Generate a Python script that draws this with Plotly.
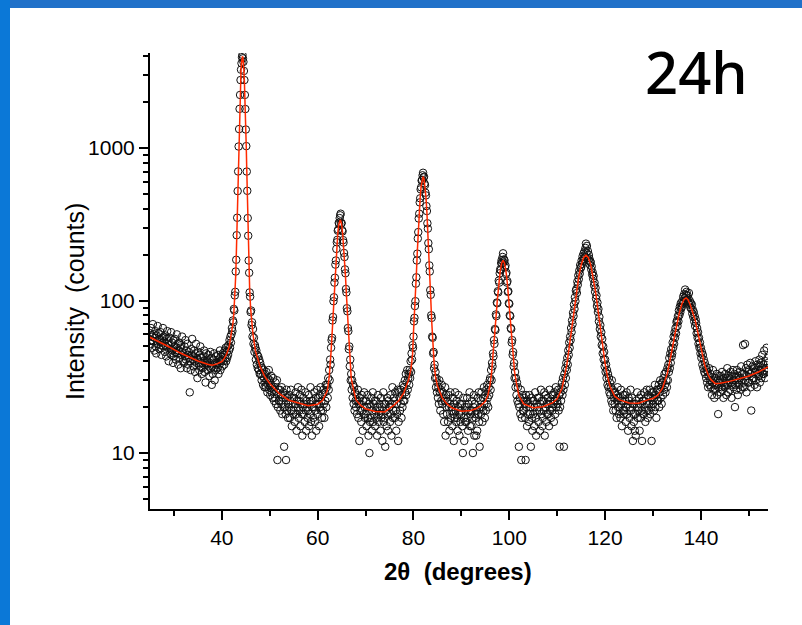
import numpy as np
import plotly.graph_objects as go

# ---------------- data ----------------
SCAN_START = 25.0   # first 2-theta of the scan (degrees)
SCAN_STEP = 0.1     # scan step (degrees)

# measured counts, one line per degree (x.0 ... x.9)
counts = [
    61, 52, 66, 55, 49, 58, 70, 54, 60, 47,            # 25
    57, 63, 50, 45, 59, 54, 68, 52, 61, 56,            # 26
    48, 55, 62, 51, 44, 57, 53, 66, 50, 58,            # 27
    54, 46, 59, 50, 43, 56, 63, 49, 52, 40,            # 28
    51, 57, 45, 48, 62, 44, 53, 47, 39, 55,            # 29
    43, 50, 56, 46, 41, 49, 60, 45, 52, 38,            # 30
    47, 53, 42, 49, 36, 51, 44, 58, 46, 40,            # 31
    45, 39, 50, 43, 55, 41, 47, 36, 52, 44,            # 32
    38, 46, 42, 25, 40, 35, 48, 44, 56, 41,            # 33
    43, 37, 47, 40, 34, 45, 52, 39, 42, 31,            # 34
    41, 46, 38, 35, 44, 50, 37, 42, 33, 39,            # 35
    36, 43, 40, 47, 34, 39, 29, 45, 38, 41,            # 36
    40, 35, 44, 37, 32, 39, 46, 36, 42, 28,            # 37
    37, 33, 41, 36, 45, 30, 39, 35, 43, 38,            # 38
    39, 36, 44, 33, 41, 38, 47, 35, 40, 43,            # 39
    41, 37, 45, 40, 44, 38, 47, 42, 49, 40,            # 40
    46, 42, 50, 44, 51, 47, 55, 49, 58, 53,            # 41
    60, 66, 63, 74, 72, 88, 86, 108, 114, 155,         # 42
    185, 268, 349, 522, 702, 1023, 1331, 1806, 2228, 2790,   # 43
    3262, 3597, 3941, 4085, 3873, 3671, 3201, 2790, 2229, 1801,  # 44
    1322, 1029, 701, 524, 347, 266, 183, 152, 113, 106,  # 45
    84, 86, 69, 72, 58, 65, 52, 57, 46, 51,            # 46
    49, 41, 47, 38, 44, 36, 43, 35, 41, 33,            # 47
    39, 33, 37, 30, 36, 32, 28, 35, 31, 27,            # 48
    33, 29, 27, 34, 30, 25, 31, 28, 35, 26,            # 49
    30, 24, 28, 32, 25, 27, 23, 31, 26, 22,            # 50
    27, 23, 29, 21, 25, 30, 9, 20, 26, 22,             # 51
    22, 26, 19, 24, 21, 27, 18, 23, 25, 20,            # 52
    11, 24, 20, 18, 9, 26, 19, 23, 17, 21,             # 53
    20, 24, 17, 22, 26, 19, 15, 23, 21, 18,            # 54
    19, 23, 16, 21, 25, 18, 14, 22, 20, 27,            # 55
    17, 22, 19, 24, 15, 21, 26, 18, 13, 20,            # 56
    23, 18, 21, 16, 25, 19, 14, 22, 20, 17,            # 57
    19, 24, 15, 21, 18, 27, 16, 22, 13, 20,            # 58
    22, 17, 20, 25, 16, 19, 23, 14, 21, 26,            # 59
    18, 23, 21, 15, 24, 20, 27, 19, 22, 17,            # 60
    24, 19, 26, 21, 17, 25, 22, 28, 20, 27,            # 61
    28, 23, 31, 26, 35, 30, 41, 38, 49, 55,            # 62
    57, 74, 78, 99, 105, 131, 141, 172, 183, 218,      # 63
    241, 250, 287, 292, 323, 318, 347, 362, 371, 320,  # 64
    322, 289, 284, 249, 240, 205, 193, 160, 151, 119,  # 65
    113, 89, 85, 66, 63, 48, 50, 37, 41, 30,           # 66
    33, 26, 30, 23, 28, 21, 27, 19, 25, 22,            # 67
    20, 24, 18, 22, 26, 17, 21, 12, 23, 19,            # 68
    21, 16, 24, 19, 14, 22, 18, 25, 20, 17,            # 69
    18, 22, 15, 20, 24, 17, 13, 21, 10, 16,            # 70
    20, 17, 23, 14, 19, 25, 16, 21, 18, 22,            # 71
    15, 19, 22, 17, 13, 20, 24, 16, 18, 21,            # 72
    19, 14, 23, 17, 20, 12, 18, 25, 16, 21,            # 73
    17, 11, 21, 19, 15, 23, 18, 14, 22, 20,            # 74
    20, 16, 24, 18, 13, 21, 27, 17, 19, 23,            # 75
    22, 17, 25, 19, 14, 21, 18, 26, 12, 16,            # 76
    25, 23, 19, 26, 21, 17, 24, 20, 28, 22,            # 77
    27, 22, 30, 25, 33, 24, 29, 35, 26, 31,            # 78
    33, 28, 35, 31, 40, 34, 45, 41, 51, 49,            # 79
    58, 73, 77, 92, 99, 129, 142, 183, 203, 255,       # 80
    281, 345, 371, 440, 468, 536, 552, 611, 617, 662,  # 81
    688, 641, 648, 585, 571, 509, 489, 416, 386, 321,  # 82
    296, 238, 217, 170, 155, 117, 109, 80, 77, 58,     # 83
    57, 45, 46, 36, 38, 31, 34, 27, 31, 25,            # 84
    29, 23, 27, 21, 30, 25, 19, 26, 22, 28,            # 85
    21, 25, 18, 23, 16, 22, 27, 13, 24, 20,            # 86
    18, 22, 16, 24, 20, 14, 21, 25, 17, 19,            # 87
    20, 15, 23, 18, 12, 21, 17, 25, 19, 16,            # 88
    22, 17, 14, 20, 24, 18, 13, 21, 16, 19,            # 89
    18, 21, 15, 10, 23, 17, 12, 20, 16, 19,            # 90
    16, 20, 23, 17, 14, 21, 19, 25, 15, 18,            # 91
    19, 15, 22, 17, 10, 20, 24, 13, 21, 18,            # 92
    17, 13, 19, 14, 23, 18, 25, 16, 11, 20,            # 93
    22, 18, 25, 20, 16, 23, 19, 27, 21, 17,            # 94
    24, 19, 26, 21, 28, 23, 20, 27, 24, 30,            # 95
    31, 26, 35, 30, 39, 37, 45, 43, 55, 52,            # 96
    65, 64, 81, 79, 97, 96, 115, 113, 135, 131,        # 97
    151, 160, 158, 176, 184, 175, 193, 204, 178, 186,  # 98
    183, 165, 170, 149, 152, 131, 134, 114, 115, 96,   # 99
    95, 80, 79, 66, 65, 53, 55, 44, 46, 37,            # 100
    39, 31, 34, 27, 31, 24, 29, 22, 27, 21,            # 101
    11, 20, 23, 18, 26, 9, 17, 24, 19, 22,             # 102
    19, 23, 21, 17, 9, 24, 20, 15, 22, 18,             # 103
    21, 16, 24, 18, 20, 11, 23, 17, 14, 22,            # 104
    18, 22, 15, 20, 25, 17, 13, 21, 19, 23,            # 105
    20, 16, 23, 19, 14, 21, 26, 18, 22, 15,            # 106
    17, 22, 19, 25, 13, 20, 24, 16, 21, 18,            # 107
    23, 18, 21, 15, 26, 19, 22, 17, 24, 20,            # 108
    19, 24, 21, 16, 25, 22, 18, 27, 20, 23,            # 109
    22, 21, 26, 19, 24, 11, 20, 25, 22, 27,            # 110
    29, 24, 31, 26, 11, 33, 28, 36, 31, 39,            # 111
    35, 42, 38, 47, 44, 53, 49, 58, 55, 66,            # 112
    62, 74, 70, 83, 79, 94, 88, 105, 99, 116,          # 113
    119, 112, 133, 127, 146, 138, 157, 150, 171, 163,  # 114
    166, 183, 174, 195, 182, 203, 188, 210, 194, 221,  # 115
    236, 207, 228, 190, 211, 184, 199, 189, 172, 181,  # 116
    178, 160, 167, 148, 153, 139, 145, 126, 131, 114,  # 117
    121, 103, 108, 92, 97, 84, 88, 73, 78, 65,         # 118
    69, 58, 62, 51, 56, 45, 50, 41, 46, 37,            # 119
    41, 34, 38, 31, 35, 28, 33, 27, 31, 25,            # 120
    29, 24, 27, 22, 30, 21, 26, 19, 25, 23,            # 121
    21, 25, 19, 24, 17, 22, 27, 20, 23, 18,            # 122
    20, 23, 17, 26, 21, 15, 22, 19, 24, 18,            # 123
    19, 24, 22, 16, 20, 25, 18, 21, 14, 23,            # 124
    22, 17, 20, 26, 19, 15, 23, 21, 12, 18,            # 125
    16, 21, 14, 18, 13, 22, 20, 25, 17, 19,            # 126
    20, 23, 14, 21, 17, 24, 19, 12, 22, 18,            # 127
    22, 18, 25, 20, 16, 23, 19, 26, 21, 17,            # 128
    24, 19, 21, 26, 18, 23, 20, 12, 25, 22,            # 129
    21, 25, 19, 23, 28, 20, 24, 17, 26, 22,            # 130
    26, 22, 28, 20, 25, 30, 23, 27, 21, 29,            # 131
    29, 24, 31, 26, 33, 28, 25, 34, 30, 27,            # 132
    36, 30, 38, 34, 42, 36, 45, 39, 48, 43,            # 133
    45, 53, 49, 58, 52, 62, 57, 66, 61, 72,            # 134
    74, 68, 79, 73, 86, 80, 91, 84, 96, 89,            # 135
    91, 99, 95, 106, 98, 110, 104, 118, 100, 109,      # 136
    114, 101, 108, 97, 103, 112, 94, 99, 90, 96,       # 137
    88, 94, 82, 87, 78, 84, 73, 79, 68, 75,            # 138
    71, 61, 66, 57, 62, 52, 57, 49, 53, 45,            # 139
    49, 42, 46, 38, 44, 36, 41, 34, 39, 33,            # 140
    37, 31, 35, 29, 34, 27, 32, 36, 28, 30,            # 141
    33, 27, 30, 24, 29, 35, 26, 31, 23, 28,            # 142
    26, 31, 28, 33, 24, 30, 18, 27, 32, 29,            # 143
    30, 25, 32, 27, 34, 26, 29, 23, 31, 28,            # 144
    27, 33, 29, 24, 31, 36, 28, 25, 32, 30,            # 145
    31, 26, 34, 29, 23, 32, 28, 35, 27, 30,            # 146
    33, 20, 28, 31, 26, 35, 29, 24, 32, 30,            # 147
    28, 34, 31, 26, 37, 30, 33, 27, 51, 29,            # 148
    33, 27, 52, 30, 36, 25, 32, 38, 29, 34,            # 149
    35, 29, 33, 39, 27, 19, 34, 30, 37, 31,            # 150
    31, 36, 28, 34, 40, 30, 35, 27, 38, 33,            # 151
    37, 32, 41, 29, 35, 39, 31, 36, 44, 33,            # 152
    38, 33, 47, 35, 31, 40, 36, 49, 34, 42,            # 153
    39,                                                # 154.0
]

# fitted profile (red line)
fit_x = [25, 27, 29, 31, 33, 35, 37, 38, 39, 40, 40.5, 41, 41.5, 42, 42.3, 42.5, 42.7, 42.9,
         43.0, 43.1, 43.2, 43.3, 43.4, 43.5, 43.6, 43.7, 43.8, 43.9, 44.0, 44.1, 44.2, 44.3,
         44.4, 44.5, 44.6, 44.7, 44.8, 44.9, 45.0, 45.1, 45.2, 45.3, 45.4, 45.5, 45.6, 45.7,
         45.8, 46.0, 46.2, 46.5, 47.0, 47.5, 48, 49, 50, 52, 54, 56, 58, 60, 61, 62, 62.4,
         62.8, 63.0, 63.2, 63.4, 63.6, 63.8, 64.0, 64.2, 64.4, 64.6, 64.7, 64.8, 65.0, 65.2,
         65.4, 65.6, 65.8, 66.0, 66.2, 66.4, 66.6, 66.8, 67.0, 67.5, 68, 69, 70, 72, 74, 76,
         77, 78, 79, 79.5, 79.8, 80.0, 80.2, 80.4, 80.6, 80.8, 81.0, 81.2, 81.4, 81.6, 81.8,
         82.0, 82.2, 82.4, 82.6, 82.8, 83.0, 83.2, 83.4, 83.6, 83.8, 84.0, 84.3, 84.6, 85, 86,
         87, 88, 90, 92, 93, 94, 95, 95.5, 96.0, 96.3, 96.6, 96.9, 97.2, 97.5, 97.8, 98.1,
         98.4, 98.7, 99.0, 99.3, 99.6, 99.9, 100.2, 100.5, 100.8, 101.1, 101.5, 102, 103, 105,
         107, 109, 110, 111, 112, 112.5, 113, 113.5, 114, 114.5, 115, 115.5, 116, 116.5, 117,
         117.5, 118, 118.5, 119, 119.5, 120, 120.5, 121, 122, 123, 125, 127, 129, 130, 131,
         132, 133, 133.5, 134, 134.5, 135, 135.5, 136, 136.5, 136.9, 137.3, 137.8, 138.3,
         138.8, 139.3, 139.8, 140.3, 140.8, 141.5, 142, 143, 144, 146, 148, 150, 152, 154]
fit_y = [57.4, 53.5, 49.6, 45.8, 43.0, 40.1, 38.2, 37.7, 38.4, 39.8, 41.7, 44.6, 49.3, 59.5,
         70.4, 82.2, 102, 147, 191, 258, 360, 509, 719, 1001, 1354, 1779, 2256, 2755, 3233,
         3630, 3899, 3995, 3898, 3630, 3233, 2755, 2255, 1778, 1353, 1000, 718, 508, 359, 257,
         190, 146, 119, 89, 73, 60, 46.7, 40.9, 36.8, 31.6, 28.6, 24.5, 22.2, 21.3, 20.4, 20.9,
         22.1, 25.6, 31.4, 46.3, 60.4, 81.4, 109.4, 145.4, 188.4, 234, 278, 314, 334, 337, 334,
         314, 278, 234, 188, 145, 109, 81, 60, 46, 37, 31, 26, 22.3, 20.5, 19.5, 18.7, 18.6,
         20.7, 22.2, 24.9, 30.4, 36, 44, 62, 79.5, 103.5, 148.5, 209.5, 288.5, 379.5, 476.5,
         563.5, 626.5, 649.5, 626.5, 563.5, 476.5, 379.5, 288.5, 209.5, 148.5, 103.5, 73.5,
         54.4, 39, 31.6, 27.6, 23, 21, 19.8, 18.8, 19, 19.5, 20.4, 21.8, 23.7, 28.2, 33.7,
         42.8, 56.5, 76.1, 100.7, 128.6, 156, 175.8, 183.8, 175.9, 156, 128.8, 101, 76.4,
         56.9, 43.2, 34.1, 28.6, 23.8, 21, 19.8, 20.1, 21.3, 22.7, 26.6, 37.7, 48.9, 65.3,
         87.2, 114.2, 143.4, 171, 191, 198.6, 191, 171.1, 143.6, 114.4, 87.5, 65.7, 49.4,
         38.5, 31.7, 27.4, 23.6, 22.3, 21.3, 21.2, 22.4, 22.8, 23.9, 26.7, 33.4, 39.2, 48.1,
         58.5, 70.8, 83.2, 94.5, 101.9, 103.9, 101.4, 93.1, 84.3, 74.4, 62.7, 52, 43.9, 37.6,
         32.6, 30.5, 28.5, 28.7, 29.5, 30.6, 32, 34, 36.7]

x_tick_vals = [40, 60, 80, 100, 120, 140]
x_minor_vals = [30, 50, 70, 90, 110, 130, 150]
y_tick_vals = [10, 100, 1000]
y_tick_text = ["10", "100", "1000"]
y_minor_vals = [5, 6, 7, 8, 9, 20, 30, 40, 50, 60, 70, 80, 90,
                200, 300, 400, 500, 600, 700, 800, 900, 2000, 3000, 4000]

X_TITLE = "<b>2\u03b8  (degrees)</b>"
Y_TITLE = "Intensity  (counts)"
LABEL = "24h"

# ---------------- layout constants ----------------
W, H = 802, 625
L, R, T, B = 150, 34, 53, 116
PW, PH = W - L - R, H - T - B


def px_x(px):
    return (px - L) / PW


def px_y(py):
    return (H - B - py) / PH


two_theta = np.round(SCAN_START + SCAN_STEP * np.arange(len(counts)), 2)

fig = go.Figure()
fig.add_trace(go.Scatter(
    x=two_theta, y=counts, mode="markers",
    marker=dict(symbol="circle-open", size=7.5, color="#111111", line=dict(width=1)),
    hoverinfo="skip"))
fig.add_trace(go.Scatter(
    x=fit_x, y=fit_y, mode="lines",
    line=dict(color="#FF2A00", width=1.5), hoverinfo="skip"))

tick_font = dict(family="Liberation Sans, Arial, sans-serif", size=21, color="black")

fig.update_xaxes(
    range=[25, 154], tickmode="array", tickvals=x_tick_vals,
    ticks="outside", ticklen=9, tickwidth=2, tickcolor="black",
    showline=True, linewidth=2, linecolor="black", mirror=False,
    showgrid=False, zeroline=False, tickfont=tick_font,
    minor=dict(tickmode="array", tickvals=x_minor_vals, ticks="outside",
               ticklen=5, tickwidth=2, tickcolor="black", showgrid=False))
fig.update_yaxes(
    type="log", range=[0.633, 3.623], tickmode="array",
    tickvals=y_tick_vals, ticktext=y_tick_text,
    ticks="outside", ticklen=9, tickwidth=2, tickcolor="black",
    showline=True, linewidth=2, linecolor="black", mirror=False,
    showgrid=False, zeroline=False, tickfont=tick_font,
    minor=dict(tickmode="array", tickvals=y_minor_vals, ticks="outside",
               ticklen=5, tickwidth=1.5, tickcolor="black", showgrid=False))

fig.update_layout(
    width=W, height=H, margin=dict(l=L, r=R, t=T, b=B, pad=0),
    paper_bgcolor="white", plot_bgcolor="white", showlegend=False,
    annotations=[
        dict(text=X_TITLE, xref="paper", yref="paper", x=px_x(458), y=px_y(571),
             showarrow=False, xanchor="center", yanchor="middle",
             font=dict(family="Liberation Sans, Arial, sans-serif", size=24, color="black")),
        dict(text=Y_TITLE, xref="paper", yref="paper", x=px_x(75), y=px_y(302),
             showarrow=False, xanchor="center", yanchor="middle", textangle=-90,
             font=dict(family="Liberation Sans, Arial, sans-serif", size=25, color="black")),
        dict(text=LABEL, xref="paper", yref="paper", x=px_x(696), y=px_y(72),
             showarrow=False, xanchor="center", yanchor="middle",
             font=dict(family="Noto Sans, DejaVu Sans, sans-serif", weight=500,
                       size=58, color="black")),
    ],
    shapes=[
        dict(type="rect", xref="paper", yref="paper", layer="above", line=dict(width=0),
             x0=px_x(0), x1=px_x(W), y0=px_y(8), y1=px_y(0), fillcolor="#2171C9"),
        dict(type="rect", xref="paper", yref="paper", layer="above", line=dict(width=0),
             x0=px_x(0), x1=px_x(10), y0=px_y(H), y1=px_y(0), fillcolor="#0B78D7"),
    ],
)

fig.write_html("out.html", config={"displayModeBar": False},
               post_script="document.body.style.margin='0';")
